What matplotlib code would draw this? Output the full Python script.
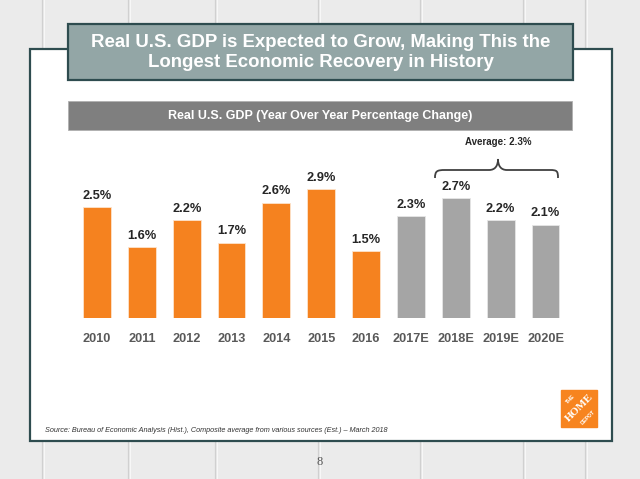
import numpy as np
import matplotlib
matplotlib.use("Agg")
import matplotlib.pyplot as plt
from matplotlib.patches import Rectangle, PathPatch
from matplotlib.path import Path

plt.rcParams["font.family"] = ["Liberation Sans", "DejaVu Sans"]

years = ["2010", "2011", "2012", "2013", "2014", "2015", "2016",
         "2017E", "2018E", "2019E", "2020E"]
gdp = [2.5, 1.6, 2.2, 1.7, 2.6, 2.9, 1.5, 2.3, 2.7, 2.2, 2.1]
is_estimate = [False] * 7 + [True] * 4
average_label = "Average: 2.3%"

ORANGE = "#F5821F"
GREY = "#A5A5A5"
BORDER = "#2E4C4F"

fig = plt.figure(figsize=(6.4, 4.79), dpi=100)
W, H = 640, 479

# background "wood" + slide frame, pixel coordinates (y down)
bg = fig.add_axes([0, 0, 1, 1])
bg.set_xlim(0, W)
bg.set_ylim(H, 0)
bg.axis("off")
bg.add_patch(Rectangle((0, 0), W, H, color="#ebebeb", zorder=0))
seams = [42, 128, 215, 318, 420, 523, 585]
for sx in seams:
    bg.plot([sx, sx], [0, H], color="#d0d0d0", lw=0.9, zorder=1)
    bg.plot([sx + 1.5, sx + 1.5], [0, H], color="#f7f7f7", lw=0.8, zorder=1)

bg.add_patch(Rectangle((30, 49), 582, 392, facecolor="white",
                       edgecolor=BORDER, lw=1.6, zorder=2))
bg.add_patch(Rectangle((68, 24), 505, 56, facecolor="#93A6A6",
                       edgecolor=BORDER, lw=1.6, zorder=3))
bg.text(320.5, 52.5, "Real U.S. GDP is Expected to Grow, Making This the\n"
        "Longest Economic Recovery in History", ha="center", va="center",
        color="white", fontsize=13.4, fontweight="bold", linespacing=1.22,
        zorder=4)
bg.add_patch(Rectangle((68, 101), 504, 29, facecolor="#7F7F7F",
                       edgecolor="#b0b0b0", lw=0.6, zorder=3))
bg.text(320, 116, "Real U.S. GDP (Year Over Year Percentage Change)",
        ha="center", va="center", color="white", fontsize=9,
        fontweight="bold", zorder=4)

# brace over the estimate bars
verts = [(435, 178), (435, 171), (437, 170), (445, 170),
         (489, 170),
         (495, 170), (498, 166), (498, 159),
         (498, 166), (501, 170), (507, 170),
         (550, 170),
         (557, 170), (558, 171), (558, 178)]
codes = [Path.MOVETO, Path.CURVE4, Path.CURVE4, Path.CURVE4,
         Path.LINETO,
         Path.CURVE4, Path.CURVE4, Path.CURVE4,
         Path.CURVE4, Path.CURVE4, Path.CURVE4,
         Path.LINETO,
         Path.CURVE4, Path.CURVE4, Path.CURVE4]
bg.add_patch(PathPatch(Path(verts, codes), facecolor="none",
                       edgecolor="#404040", lw=1.3, zorder=4))
bg.text(498, 142, average_label, ha="center", va="center", fontsize=7,
        fontweight="bold", color="#262626", zorder=4)

bg.text(45, 430, "Source: Bureau of Economic Analysis (Hist.), Composite average "
        "from various sources (Est.) \u2013 March 2018", ha="left", va="center",
        fontsize=5.2, fontstyle="italic", color="#333333", zorder=4)
bg.text(320, 462, "8", ha="center", va="center", fontsize=9,
        family="Liberation Serif", color="#555555", zorder=4)

# logo
bg.add_patch(Rectangle((561, 390), 36, 37, color="#F7841F", zorder=4))
bg.text(571, 399, "THE", rotation=45, ha="center", va="center",
        fontsize=3.8, fontweight="bold", color="white", zorder=5)
bg.text(579, 408, "HOME", rotation=45, ha="center", va="center",
        fontsize=8, fontweight="bold", color="white", family="Liberation Serif",
        zorder=5)
bg.text(588, 417, "DEPOT", rotation=45, ha="center", va="center",
        fontsize=3.8, fontweight="bold", color="white", zorder=5)

# bar chart
step = 44.85
unit = 44.4
left_px = 97 - 0.5 * step
bottom_px = H - 318
ymax = 3.5
ax = fig.add_axes([left_px / W, bottom_px / H, 11 * step / W, ymax * unit / H])
ax.set_facecolor("none")
ax.set_zorder(5)
x = np.arange(len(years))
colors = [GREY if e else ORANGE for e in is_estimate]
edges = ["#e6e6e6" if e else "#fde3cc" for e in is_estimate]
ax.bar(x, gdp, width=0.62, color=colors, edgecolor=edges, lw=0.6)
for xi, v in zip(x, gdp):
    ax.annotate(f"{v:.1f}%", (xi, v), xytext=(0, 6), textcoords="offset points",
                ha="center", va="baseline", fontsize=9.2, fontweight="bold",
                color="#262626")
ax.set_xlim(-0.5, len(years) - 0.5)
ax.set_ylim(0, ymax)
ax.set_xticks(x)
ax.set_xticklabels(years, fontsize=9.2, fontweight="bold", color="#595959")
ax.tick_params(axis="x", length=0, pad=10.5)
ax.set_yticks([])
for s in ax.spines.values():
    s.set_visible(False)

fig.savefig("out.png", dpi=100)
